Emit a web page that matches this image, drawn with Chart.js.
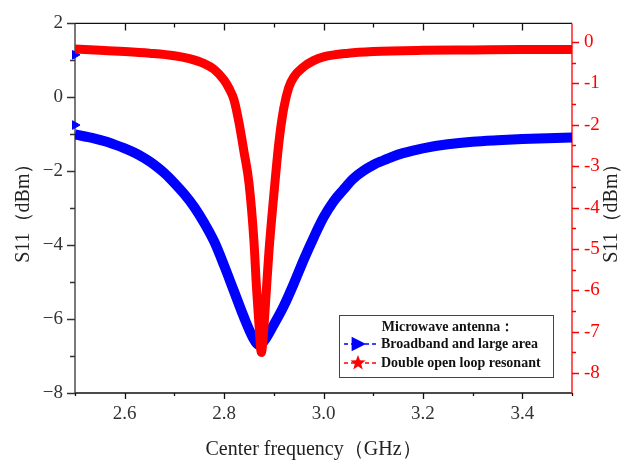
<!DOCTYPE html>
<html>
<head>
<meta charset="utf-8">
<script src="https://cdn.jsdelivr.net/npm/chart.js@4.4.1/dist/chart.umd.min.js"></script>
<style>
  html, body { margin: 0; padding: 0; background: #fff; }
  #wrap { width: 627px; height: 465px; }
</style>
</head>
<body>
<div id="wrap"><canvas id="chart" width="627" height="465"></canvas></div>
<script>
// Broadband and large area (left axis, dBm)
const freqBroad = [2.50, 2.52, 2.54, 2.56, 2.58, 2.60, 2.62, 2.64, 2.66, 2.68, 2.70, 2.72, 2.74, 2.76, 2.78,
  2.80, 2.82, 2.84, 2.86, 2.87, 2.88, 2.90, 2.92, 2.94, 2.96, 2.98, 3.00, 3.02, 3.04, 3.06, 3.08,
  3.10, 3.12, 3.14, 3.16, 3.18, 3.20, 3.25, 3.30, 3.35, 3.40, 3.45, 3.50];
const s11Broad = [-1.00, -1.06, -1.12, -1.19, -1.28, -1.38, -1.50, -1.65, -1.83, -2.05, -2.32, -2.62, -2.97, -3.40, -3.90,
  -4.55, -5.25, -5.95, -6.55, -6.70, -6.60, -6.15, -5.65, -5.05, -4.40, -3.80, -3.25, -2.82, -2.50, -2.20, -1.99,
  -1.83, -1.71, -1.60, -1.51, -1.44, -1.38, -1.27, -1.20, -1.16, -1.13, -1.11, -1.09];
// stray markers at the start of the broadband sweep
const freqBroadStray = [2.50, 2.50];
const s11BroadStray = [1.15, -0.75];

// Double open loop resonant (right axis, dBm)
const freqLoop = [2.50, 2.55, 2.60, 2.65, 2.70, 2.73, 2.76, 2.78, 2.80, 2.81, 2.82, 2.83, 2.84, 2.85, 2.86,
  2.865, 2.87, 2.875, 2.88, 2.885, 2.89, 2.90, 2.91, 2.92, 2.93, 2.94, 2.96, 2.98, 3.00, 3.05, 3.10,
  3.20, 3.30, 3.40, 3.50];
const s11Loop = [-0.17, -0.20, -0.23, -0.27, -0.33, -0.40, -0.52, -0.66, -0.92, -1.12, -1.40, -1.95, -2.65, -3.40, -4.80,
  -5.90, -6.80, -7.50, -6.90, -6.00, -5.10, -3.70, -2.45, -1.60, -1.10, -0.85, -0.60, -0.45, -0.36, -0.27, -0.23,
  -0.20, -0.19, -0.18, -0.18];

const xTicks = [2.6, 2.8, 3.0, 3.2, 3.4];
const leftTicks = [-8, -6, -4, -2, 0, 2];
const rightTicks = [0, -1, -2, -3, -4, -5, -6, -7, -8];
const legendTitle = 'Microwave antenna：';

const serif = "'Liberation Serif', 'Times New Roman', serif";
const BLUE = '#0000ff';
const RED = '#ff0000';

function pts(xs, ys) {
  return xs.map((x, i) => ({ x: x, y: ys[i] }));
}

function setTicks(list) {
  return axis => { axis.ticks = list.map(v => ({ value: v })); };
}

function triangle(ctx, x, y, r) {
  ctx.beginPath();
  ctx.moveTo(x + r, y);
  ctx.lineTo(x - r * 0.6, y - r * 0.8);
  ctx.lineTo(x - r * 0.6, y + r * 0.8);
  ctx.closePath();
  ctx.fill();
}

function star(ctx, x, y, r) {
  ctx.beginPath();
  for (let i = 0; i < 10; i++) {
    const rr = i % 2 === 0 ? r : r * 0.42;
    const a = -Math.PI / 2 + i * Math.PI / 5;
    const px = x + rr * Math.cos(a), py = y + rr * Math.sin(a);
    if (i === 0) ctx.moveTo(px, py); else ctx.lineTo(px, py);
  }
  ctx.closePath();
  ctx.fill();
}

// frame, tick marks, titles and the boxed legend
const framePlugin = {
  id: 'frame',
  beforeDatasetsDraw(chart) {
    const { ctx, chartArea: a, scales } = chart;
    const sx = scales.x, sl = scales.y, sr = scales.y1;
    ctx.save();
    ctx.lineWidth = 1.3;

    // bottom and top
    ctx.strokeStyle = '#111';
    ctx.beginPath();
    ctx.moveTo(a.left, a.bottom); ctx.lineTo(a.right, a.bottom);
    ctx.moveTo(a.left, a.top); ctx.lineTo(a.right, a.top);
    for (let k = 0; k <= 10; k++) {
      const v = 2.5 + k * 0.1;
      const major = xTicks.some(t => Math.abs(t - v) < 1e-6);
      const px = Math.round(sx.getPixelForValue(v)) + 0.5;
      ctx.moveTo(px, a.bottom); ctx.lineTo(px, a.bottom + (major ? 6 : 3));
      if (k > 0 && k < 10) { ctx.moveTo(px, a.top); ctx.lineTo(px, a.top + (major ? 7 : 4)); }
    }
    ctx.stroke();

    // left axis
    ctx.strokeStyle = '#333';
    ctx.beginPath();
    ctx.moveTo(a.left, a.top); ctx.lineTo(a.left, a.bottom);
    for (let v = -8; v <= 2; v += 1) {
      const py = Math.round(sl.getPixelForValue(v)) + 0.5;
      const major = leftTicks.includes(v);
      ctx.moveTo(a.left, py); ctx.lineTo(a.left - (major ? 8 : 5), py);
    }
    ctx.stroke();

    // right axis
    ctx.strokeStyle = RED;
    ctx.beginPath();
    ctx.moveTo(a.right, a.top); ctx.lineTo(a.right, a.bottom);
    for (let v = -8; v <= 0; v += 0.5) {
      const py = Math.round(sr.getPixelForValue(v)) + 0.5;
      const major = Number.isInteger(v);
      ctx.moveTo(a.right, py); ctx.lineTo(a.right + (major ? 7 : 4), py);
    }
    ctx.stroke();
    ctx.restore();
  },
  afterDraw(chart) {
    const { ctx, chartArea: a } = chart;
    const midY = (a.top + a.bottom) / 2;
    ctx.save();

    // axis titles
    ctx.font = '20px ' + serif;
    ctx.fillStyle = '#222';
    ctx.textAlign = 'center';
    ctx.textBaseline = 'middle';
    ctx.fillText('Center frequency（GHz）', (a.left + a.right) / 2 - 10, 450);

    ctx.translate(24, midY);
    ctx.rotate(-Math.PI / 2);
    ctx.fillText('S11（dBm）', 0, 0);
    ctx.setTransform(1, 0, 0, 1, 0, 0);

    ctx.translate(612, midY);
    ctx.rotate(-Math.PI / 2);
    ctx.fillText('S11（dBm）', 0, 0);
    ctx.setTransform(1, 0, 0, 1, 0, 0);

    // legend box
    const w = 214, h = 62;
    const x0 = a.right - 19 - w, y0 = a.bottom - 16 - h;
    ctx.fillStyle = '#fff';
    ctx.fillRect(x0, y0, w, h);
    ctx.strokeStyle = '#444';
    ctx.lineWidth = 1;
    ctx.strokeRect(x0 + 0.5, y0 + 0.5, w, h);

    ctx.font = 'bold 14px ' + serif;
    ctx.fillStyle = '#111';
    ctx.textAlign = 'center';
    ctx.fillText(legendTitle, x0 + w / 2 + 2, y0 + 12);

    const items = chart.data.datasets.filter(d => d.label);
    items.forEach((d, i) => {
      const y = y0 + 29 + i * 19;
      ctx.strokeStyle = d.borderColor;
      ctx.lineWidth = 1.5;
      ctx.setLineDash([4, 3]);
      ctx.beginPath();
      ctx.moveTo(x0 + 5, y); ctx.lineTo(x0 + 38, y);
      ctx.stroke();
      ctx.setLineDash([]);
      ctx.fillStyle = d.borderColor;
      if (d.marker === 'triangle') triangle(ctx, x0 + 18, y, 9);
      else star(ctx, x0 + 19, y, 8);
      ctx.fillStyle = '#111';
      ctx.textAlign = 'left';
      ctx.fillText(d.label, x0 + 42, y);
    });
    ctx.restore();
  }
};

new Chart(document.getElementById('chart'), {
  type: 'line',
  data: {
    datasets: [
      {
        label: 'Broadband and large area',
        marker: 'triangle',
        data: pts(freqBroad, s11Broad),
        yAxisID: 'y',
        borderColor: BLUE,
        backgroundColor: BLUE,
        borderWidth: 10,
        pointRadius: 0,
        cubicInterpolationMode: 'monotone',
        order: 2
      },
      {
        label: 'Double open loop resonant',
        marker: 'star',
        data: pts(freqLoop, s11Loop),
        yAxisID: 'y1',
        borderColor: RED,
        backgroundColor: RED,
        borderWidth: 9,
        pointRadius: 0,
        cubicInterpolationMode: 'monotone',
        order: 1
      },
      {
        data: pts(freqBroadStray, s11BroadStray),
        yAxisID: 'y',
        showLine: false,
        borderColor: BLUE,
        backgroundColor: BLUE,
        pointStyle: 'triangle',
        rotation: 90,
        pointRadius: 5,
        clip: false,
        order: 3
      }
    ]
  },
  options: {
    responsive: false,
    animation: false,
    devicePixelRatio: 1,
    layout: { padding: { top: 17, left: 0, right: 0, bottom: 0 } },
    plugins: { legend: { display: false }, tooltip: { enabled: false } },
    scales: {
      x: {
        type: 'linear',
        min: 2.5,
        max: 3.5,
        afterBuildTicks: setTicks(xTicks),
        afterFit: s => { s.height = 72; },
        grid: { display: false, drawTicks: false },
        border: { display: false },
        ticks: {
          padding: 10,
          color: '#333',
          font: { family: serif, size: 19 },
          callback: v => Number(v).toFixed(1)
        }
      },
      y: {
        position: 'left',
        min: -8,
        max: 2,
        afterBuildTicks: setTicks(leftTicks),
        afterFit: s => { s.width = 75; },
        grid: { display: false, drawTicks: false },
        border: { display: false },
        ticks: {
          padding: 12,
          color: '#333',
          font: { family: serif, size: 19 },
          callback: v => (v < 0 ? '\u2212' + Math.abs(v) : String(v))
        }
      },
      y1: {
        position: 'right',
        min: -8.48,
        max: 0.45,
        afterBuildTicks: setTicks(rightTicks),
        afterFit: s => { s.width = 55; },
        grid: { display: false, drawTicks: false },
        border: { display: false },
        ticks: {
          padding: 12,
          color: RED,
          font: { family: serif, size: 19 },
          callback: v => String(v)
        }
      }
    }
  },
  plugins: [framePlugin]
});
</script>
</body>
</html>
